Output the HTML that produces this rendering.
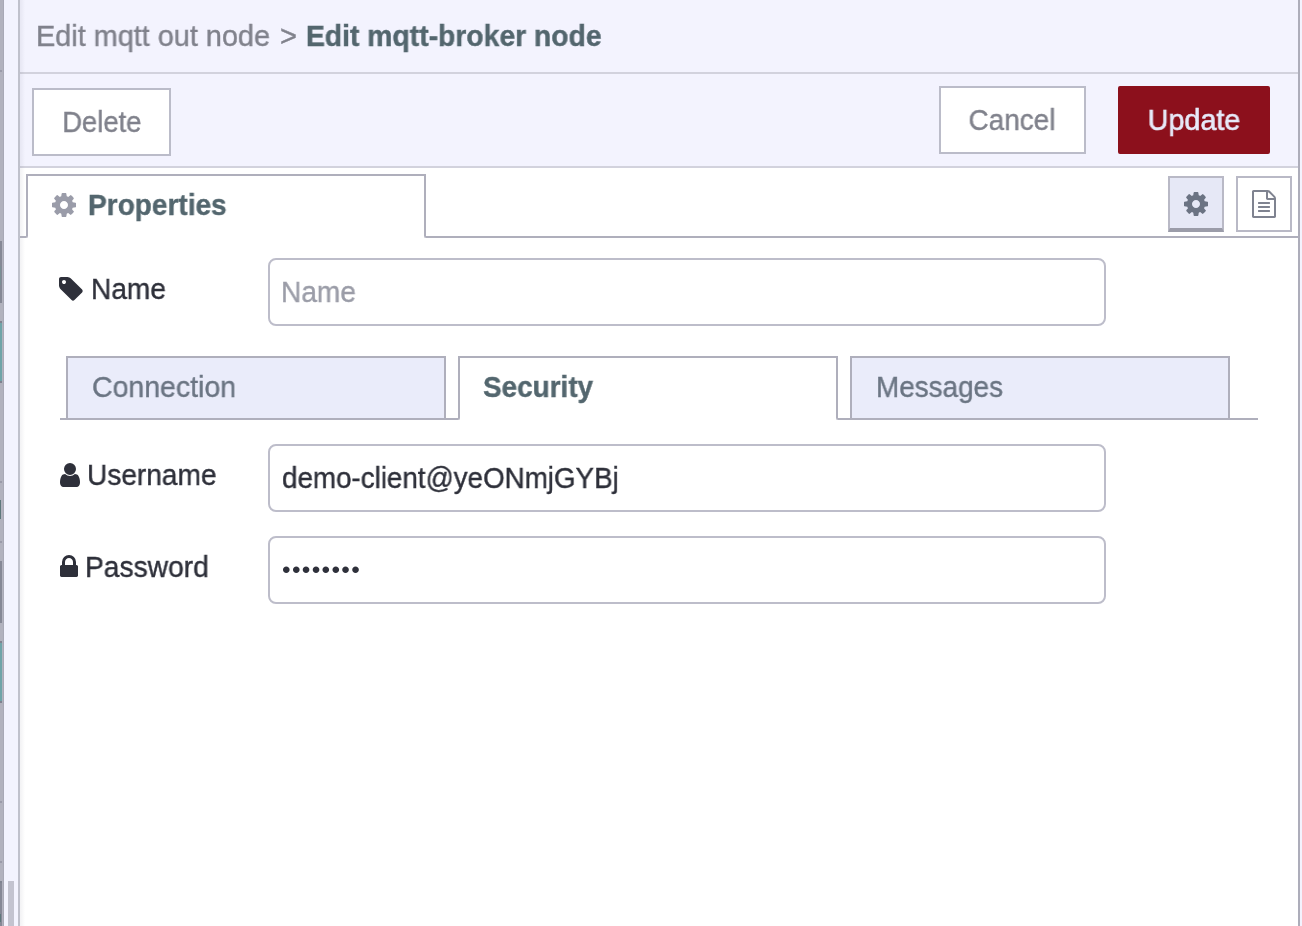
<!DOCTYPE html>
<html lang="en">
<head>
<meta charset="utf-8">
<title>Edit mqtt-broker node</title>
<style>
*{box-sizing:border-box;margin:0;padding:0}
html,body{width:1302px;height:926px;overflow:hidden;background:#fff}
body{position:relative;font-family:"Liberation Sans",Arial,Helvetica,sans-serif;font-size:29px;color:#2e303a;-webkit-font-smoothing:antialiased}
.abs{position:absolute}
.t,.btn span{-webkit-text-stroke:0.4px currentColor;will-change:transform}
.t{transform-origin:0 50%}
.t{position:absolute;white-space:nowrap;line-height:32px;height:32px}
/* left workspace sliver */
#ws{left:0;top:0;width:4px;height:926px;background:#b2b2be}
#ws i{position:absolute;left:0;width:4px;display:block}
#sep{left:4px;top:0;width:14px;height:926px;background:#f3f3fe}
#sepb{left:18px;top:0;width:2px;height:926px;background:#c0c1cc}
#shd{left:20px;top:0;width:5px;height:926px;background:linear-gradient(to right,rgba(40,40,70,0.06),rgba(40,40,70,0.04) 40%,rgba(40,40,70,0) 100%)}
#thumb{left:8px;top:881px;width:6px;height:45px;background:#c3c3cf}
/* tray */
#tray{left:20px;top:0;width:1278px;height:926px;background:#fff}
#rb{left:1298px;top:0;width:2px;height:926px;background:#adadba}
#rs{left:1300px;top:0;width:2px;height:926px;background:#f3f3fe}
#hdr{left:20px;top:0;width:1278px;height:166px;background:#f3f3fe}
#hl1{left:20px;top:72px;width:1278px;height:2px;background:#d2d2dd}
#hl2{left:20px;top:166px;width:1278px;height:2px;background:#d2d2dd}
.btn{position:absolute;border:2px solid #bbbcc9;background:#fff;color:#80828c;text-align:center;border-radius:0}
.btn span{position:absolute;left:0;right:0;white-space:nowrap;line-height:32px}
#upd{background:#8c101c;border-color:#8c101c;color:#e7eaf9;border-radius:2px}
#upd span{-webkit-text-stroke:0.6px currentColor}
/* top tabs */
.jl{position:absolute;border:0 solid #afafbc;border-bottom-width:2px;border-right-width:2px;border-bottom-right-radius:2.5px}
.jr{position:absolute;border:0 solid #afafbc;border-bottom-width:2px;border-left-width:2px;border-bottom-left-radius:2.5px}
#ptab{left:26px;top:174px;width:400px;height:60px;border:2px solid #afafbc;border-bottom:0;background:#fff}
.ibtn{position:absolute;width:56px;height:56px;border:2px solid #b9b9c6;background:#fff}
#ib1{background:#e6e8f6;border-bottom:4px solid #9b9ca9}
/* inputs */
.inp{position:absolute;left:268px;width:838px;height:68px;border:2px solid #bdbdca;border-radius:8px;background:#fff}
/* inner tabs */
.itab{position:absolute;top:356px;width:380px;height:64px;border:2px solid #afafbc;background:#eaecfa}
#it2{background:#fff;border-bottom:0;height:58px}
svg{position:absolute;display:block;overflow:visible}
</style>
</head>
<body>
<div id="ws" class="abs"><i style="left:0px;width:2px;top:70px;height:2px;background:#9b9ba9"></i><i style="left:0px;width:2px;top:241px;height:62px;background:#868896"></i><i style="left:0px;width:1px;top:266px;height:19px;background:#7b8f95"></i><i style="left:0px;width:2px;top:321px;height:62px;background:#70a4a9"></i><i style="left:0px;width:2px;top:321px;height:2px;background:#7f8390"></i><i style="left:0px;width:2px;top:381px;height:2px;background:#7f8390"></i><i style="left:0px;width:2px;top:481px;height:2px;background:#9b9ba9"></i><i style="left:0px;width:1px;top:500px;height:19px;background:#5f787c"></i><i style="left:0px;width:2px;top:541px;height:2px;background:#9b9ba9"></i><i style="left:0px;width:2px;top:561px;height:62px;background:#868896"></i><i style="left:0px;width:2px;top:641px;height:62px;background:#70a4a9"></i><i style="left:0px;width:2px;top:641px;height:2px;background:#7f8390"></i><i style="left:0px;width:2px;top:701px;height:2px;background:#7f8390"></i><i style="left:0px;width:2px;top:801px;height:2px;background:#9b9ba9"></i><i style="left:0px;width:2px;top:861px;height:2px;background:#9b9ba9"></i><i style="left:0px;width:2px;top:881px;height:45px;background:#868896"></i><i style="left:0px;width:2px;top:881px;height:2px;background:#7f8390"></i><i style="left:0px;width:1px;top:914px;height:8px;background:#5f787c"></i><i style="left:3px;width:1px;top:0px;height:926px;background:#a9a9b6"></i></div>
<div id="sep" class="abs"></div>
<div id="thumb" class="abs"></div>
<div id="sepb" class="abs"></div>
<div id="tray" class="abs"></div>
<div id="hdr" class="abs"></div>
<div id="hl1" class="abs"></div>
<div id="hl2" class="abs"></div>
<div id="rb" class="abs"></div>
<div id="shd" class="abs"></div>
<div id="rs" class="abs"></div>

<div class="t" id="t1" style="left:35.6px;top:20px;transform:scaleX(0.9944);color:#80828c">Edit mqtt out node</div>
<div class="t" id="t2" style="left:279.5px;top:20px;transform:scaleX(1);color:#80828c">&gt;</div>
<div class="t" id="t3" style="left:306.4px;top:20px;transform:scaleX(0.976);color:#53666e;font-weight:700">Edit mqtt-broker node</div>

<div class="btn" id="del" style="left:32px;top:88px;width:139px;height:68px"><span id="b1" style="top:16px;left:1.4px;transform:scaleX(0.947)">Delete</span></div>
<div class="btn" id="can" style="left:939px;top:86px;width:147px;height:68px"><span id="b2" style="top:16px;left:-1px;transform:scaleX(0.962)">Cancel</span></div>
<div class="btn" id="upd" style="left:1118px;top:86px;width:152px;height:68px"><span id="b3" style="top:16px;transform:scaleX(0.992)">Update</span></div>

<div class="jl" style="left:20px;top:226px;width:8px;height:12px"></div>
<div class="jr" style="left:424px;top:226px;width:874px;height:12px"></div>
<div id="ptab" class="abs"></div>
<div class="t" id="t4" style="left:87.6px;top:189px;transform:scaleX(0.9666);color:#53666e;font-weight:700">Properties</div>
<div class="ibtn" id="ib1" style="left:1168px;top:176px"></div>
<div class="ibtn" id="ib2" style="left:1236px;top:176px"></div>

<div class="t" id="t5" style="left:91.3px;top:273px;transform:scaleX(0.9686);">Name</div>
<div class="inp" style="top:258px"></div>
<div class="t" id="t6" style="left:281.1px;top:276px;transform:scaleX(0.9686);color:#9b9da8">Name</div>

<div class="jl" style="left:60px;top:408px;width:400px;height:12px"></div>
<div class="jr" style="left:836px;top:408px;width:422px;height:12px"></div>
<div class="itab" id="it1" style="left:66px"></div>
<div class="itab" id="it2" style="left:458px"></div>
<div class="itab" id="it3" style="left:850px"></div>
<div class="t" id="t7" style="left:92.3px;top:371px;transform:scaleX(0.982);color:#6b7583">Connection</div>
<div class="t" id="t8" style="left:483.2px;top:371px;transform:scaleX(0.962);color:#53666e;font-weight:700">Security</div>
<div class="t" id="t9" style="left:876.2px;top:371px;transform:scaleX(0.9607);color:#6b7583">Messages</div>

<div class="t" id="t10" style="left:87.2px;top:459px;transform:scaleX(0.968);">Username</div>
<div class="inp" style="top:444px"></div>
<div class="t" id="t11" style="left:281.6px;top:462px;transform:scaleX(0.9575);">demo-client@yeONmjGYBj</div>

<div class="t" id="t12" style="left:85.4px;top:551px;transform:scaleX(0.972);">Password</div>
<div class="inp" style="top:536px"></div>
<div class="t" id="t13" style="left:282.2px;top:554px;font-size:24.5px;letter-spacing:1.3px;-webkit-text-stroke:0">&#8226;&#8226;&#8226;&#8226;&#8226;&#8226;&#8226;&#8226;</div>
<svg id="i1" style="left:49.5px;top:190.5px" width="28" height="28" viewBox="0 0 1792 1792"><path fill="#9a9ca9" d="M1152 896q0-106-75-181t-181-75-181 75-75 181 75 181 181 75 181-75 75-181zm512-109v222q0 12-8 23t-20 13l-185 28q-19 54-39 91 35 50 107 138 10 12 10 25t-9 23q-27 37-99 108t-94 71q-12 0-26-9l-138-108q-44 23-91 38-16 136-29 186-7 28-36 28h-222q-14 0-24.500-8.500t-11.500-21.500l-28-184q-49-16-90-37l-141 107q-10 9-25 9-14 0-25-11-126-114-165-168-7-10-7-23 0-12 8-23 15-21 51-66.500t54-70.500q-27-50-41-99l-183-27q-13-2-21-12.500t-8-23.500v-222q0-12 8-23t19-13l186-28q14-46 39-92-40-57-107-138-10-12-10-24 0-10 9-23 26-36 98.500-107.500t94.500-71.500q13 0 26 10l138 107q44-23 91-38 16-136 29-186 7-28 36-28h222q14 0 24.500 8.500t11.500 21.500l28 184q49 16 90 37l142-107q9-9 24-9 13 0 25 10 129 119 165 170 7 8 7 22 0 12-8 23-15 21-51 66.500t-54 70.500q26 50 41 98l183 28q13 2 21 12.500t8 23.500z"/></svg>
<svg id="i2" style="left:1182px;top:190px" width="28" height="28" viewBox="0 0 1792 1792"><path fill="#6b7383" d="M1152 896q0-106-75-181t-181-75-181 75-75 181 75 181 181 75 181-75 75-181zm512-109v222q0 12-8 23t-20 13l-185 28q-19 54-39 91 35 50 107 138 10 12 10 25t-9 23q-27 37-99 108t-94 71q-12 0-26-9l-138-108q-44 23-91 38-16 136-29 186-7 28-36 28h-222q-14 0-24.500-8.500t-11.500-21.500l-28-184q-49-16-90-37l-141 107q-10 9-25 9-14 0-25-11-126-114-165-168-7-10-7-23 0-12 8-23 15-21 51-66.500t54-70.500q-27-50-41-99l-183-27q-13-2-21-12.500t-8-23.500v-222q0-12 8-23t19-13l186-28q14-46 39-92-40-57-107-138-10-12-10-24 0-10 9-23 26-36 98.500-107.500t94.500-71.500q13 0 26 10l138 107q44-23 91-38 16-136 29-186 7-28 36-28h222q14 0 24.500 8.500t11.500 21.500l28 184q49 16 90 37l142-107q9-9 24-9 13 0 25 10 129 119 165 170 7 8 7 22 0 12-8 23-15 21-51 66.500t-54 70.500q26 50 41 98l183 28q13 2 21 12.500t8 23.500z"/></svg>
<svg id="i3" style="left:1250px;top:190px" width="28" height="28" viewBox="0 0 1792 1792"><path fill="#7f8390" d="M1596 380q28 28 48 76t20 88v1152q0 40-28 68t-68 28h-1344q-40 0-68-28t-28-68v-1600q0-40 28-68t68-28h896q40 0 88 20t76 48zm-444-244v376h376q-10-29-22-41l-313-313q-12-12-41-22zm384 1528v-1024h-416q-40 0-68-28t-28-68v-416h-768v1536h1280zm-1024-864q0-14 9-23t23-9h704q14 0 23 9t9 23v64q0 14-9 23t-23 9h-704q-14 0-23-9t-9-23v-64zm736 224q14 0 23 9t9 23v64q0 14-9 23t-23 9h-704q-14 0-23-9t-9-23v-64q0-14 9-23t23-9h704zm0 256q14 0 23 9t9 23v64q0 14-9 23t-23 9h-704q-14 0-23-9t-9-23v-64q0-14 9-23t23-9h704z"/></svg>
<svg id="i4" style="left:57.1px;top:274.6px" width="28" height="28" viewBox="0 0 1792 1792"><path fill="#2e303a" d="M576 448q0-53-37.500-90.500t-90.500-37.500-90.500 37.500-37.500 90.500 37.500 90.500 90.500 37.500 90.500-37.500 37.500-90.500zm1067 576q0 53-37 90l-491 492q-39 37-91 37-53 0-90-37l-715-716q-38-37-64.500-101t-26.500-117v-416q0-52 38-90t90-38h416q53 0 117 26.500t102 64.500l715 714q37 39 37 91z"/></svg>
<svg id="i5" style="left:56px;top:460.5px" width="28" height="28" viewBox="0 0 1792 1792"><path fill="#2e303a" d="M1536 1399q0 109-62.500 187t-150.500 78h-854q-88 0-150.500-78t-62.500-187q0-85 8.500-160.500t31.500-152 58.500-131 94-89 134.500-34.500q131 128 313 128t313-128q76 0 134.500 34.500t94 89 58.500 131 31.500 152 8.500 160.500zm-256-887q0 159-112.500 271.500t-271.500 112.500-271.500-112.500-112.500-271.500 112.500-271.500 271.500-112.500 271.500 112.500 112.500 271.500z"/></svg>
<svg id="i6" style="left:54.5px;top:553.1px" width="28" height="28" viewBox="0 0 1792 1792"><path fill="#2e303a" d="M640 768h512v-192q0-106-75-181t-181-75-181 75-75 181v192zm832 96v576q0 40-28 68t-68 28h-960q-40 0-68-28t-28-68v-576q0-40 28-68t68-28h32v-192q0-184 132-316t316-132 316 132 132 316v192h32q40 0 68 28t28 68z"/></svg>
</body>
</html>
